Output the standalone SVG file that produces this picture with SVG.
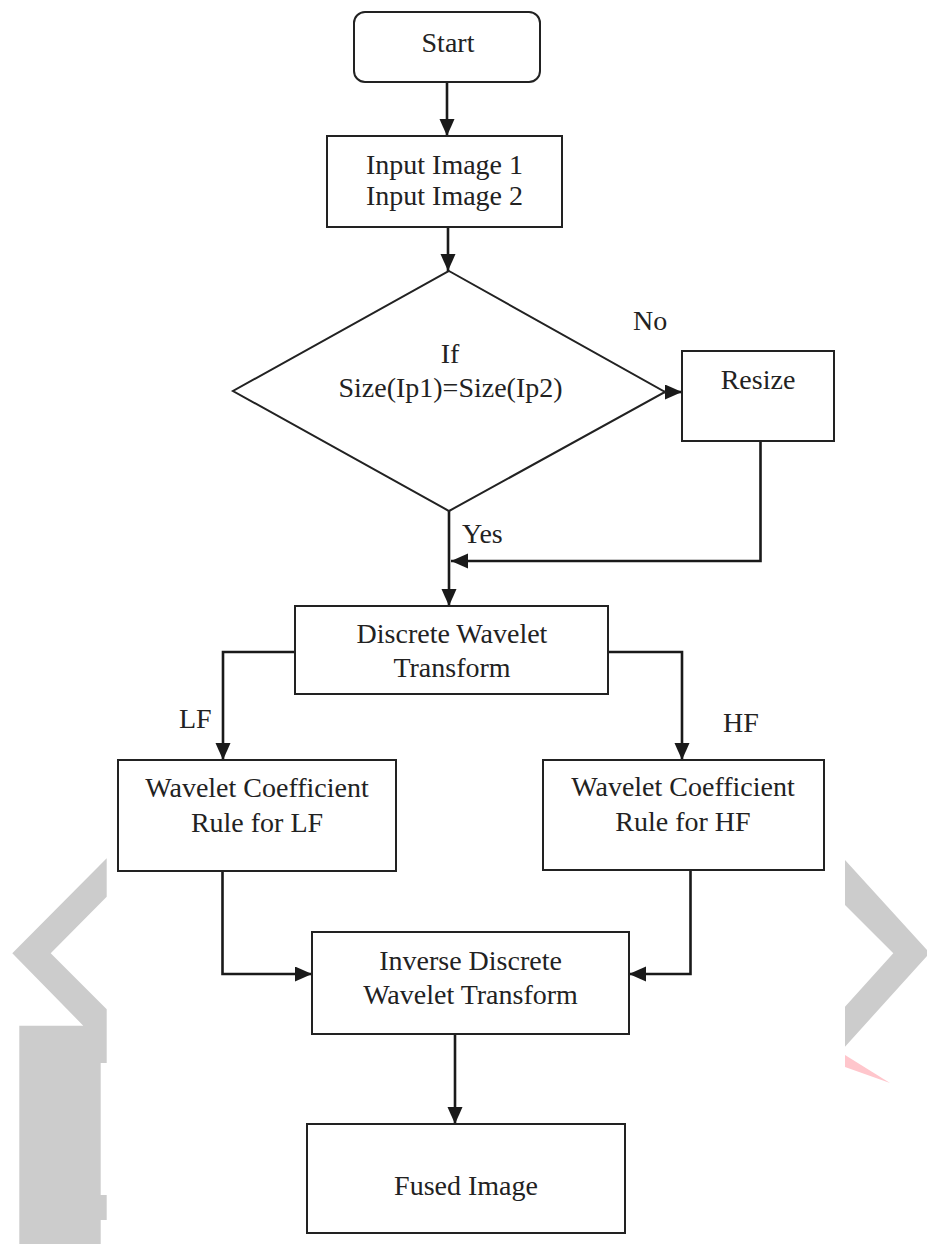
<svg xmlns="http://www.w3.org/2000/svg" width="927" height="1244" viewBox="0 0 927 1244">
  <defs>
    <style>
      .box { fill: #ffffff; stroke: #222; stroke-width: 2; }
      .conn { fill: none; stroke: #1a1a1a; stroke-width: 2.6; }
      .t { font-family: "Liberation Serif", "Times New Roman", serif; font-size: 28px; fill: #222; text-anchor: middle; }
      .lbl { font-family: "Liberation Serif", "Times New Roman", serif; font-size: 28px; fill: #222; }
      .wm { fill: #cccccc; }
    </style>
    <marker id="arr" markerUnits="userSpaceOnUse" markerWidth="18" markerHeight="16" refX="17" refY="7.5" orient="auto">
      <path d="M0,0 L17,7.5 L0,15 Z" fill="#1a1a1a"/>
    </marker>
  </defs>
  <rect width="927" height="1244" fill="#ffffff"/>

  <g id="watermark">
    <polygon class="wm" points="12.3,953.3 106.7,858.3 106.7,896.7 50.7,953.3 106.7,1009.3 106.7,1063 100.7,1063 100.7,1195 106.7,1195 106.7,1220 100.7,1220 100.7,1244 19.3,1244 19.3,1025.7 83.3,1025.7"/>
    <polygon class="wm" points="845,860 927,950 927,956 845,1046.7 845,1006.7 893.3,953.3 845,905"/>
    <polygon fill="#ffc6cc" points="845,1055 890,1083 845,1067"/>
  </g>

  <g id="connectors">
    <path class="conn" d="M447,82 L447,136" marker-end="url(#arr)"/>
    <path class="conn" d="M448,227 L448,271" marker-end="url(#arr)"/>
    <path class="conn" d="M664,392 L682,392" marker-end="url(#arr)"/>
    <path class="conn" d="M449,511 L449,606" marker-end="url(#arr)"/>
    <path class="conn" d="M760.5,441 L760.5,561 L451,561" marker-end="url(#arr)"/>
    <path class="conn" d="M295,652 L223,652 L223,760" marker-end="url(#arr)"/>
    <path class="conn" d="M608,652 L682,652 L682,760" marker-end="url(#arr)"/>
    <path class="conn" d="M222.5,871 L222.5,974 L312,974" marker-end="url(#arr)"/>
    <path class="conn" d="M690.5,870 L690.5,974 L629,974" marker-end="url(#arr)"/>
    <path class="conn" d="M455,1034 L455,1124" marker-end="url(#arr)"/>
    <text class="lbl" x="633" y="330">No</text>
    <text class="lbl" x="462" y="543">Yes</text>
    <text class="lbl" x="179" y="728">LF</text>
    <text class="lbl" x="723" y="732">HF</text>
  </g>

  <g id="start">
    <rect class="box" x="354" y="12" width="186" height="70" rx="11"/>
    <text class="t" x="448" y="52">Start</text>
  </g>

  <g id="input">
    <rect class="box" x="327" y="136" width="235" height="91"/>
    <text class="t" x="444.5" y="174">Input Image 1</text>
    <text class="t" x="444.5" y="205">Input Image 2</text>
  </g>

  <g id="decision">
    <polygon class="box" points="449,271 665,392 449,511 233,391"/>
    <text class="t" x="450" y="363">If</text>
    <text class="t" x="450.5" y="397">Size(Ip1)=Size(Ip2)</text>
  </g>

  <g id="resize">
    <rect class="box" x="682" y="351" width="152" height="90"/>
    <text class="t" x="758" y="389">Resize</text>
  </g>

  <g id="dwt">
    <rect class="box" x="295" y="606" width="313" height="88"/>
    <text class="t" x="452" y="643">Discrete Wavelet</text>
    <text class="t" x="452" y="677">Transform</text>
  </g>

  <g id="lf-rule">
    <rect class="box" x="118" y="760" width="278" height="111"/>
    <text class="t" x="257" y="797">Wavelet Coefficient</text>
    <text class="t" x="257" y="832">Rule for LF</text>
  </g>

  <g id="hf-rule">
    <rect class="box" x="543" y="760" width="281" height="110"/>
    <text class="t" x="683" y="796">Wavelet Coefficient</text>
    <text class="t" x="683" y="831">Rule for HF</text>
  </g>

  <g id="idwt">
    <rect class="box" x="312" y="932" width="317" height="102"/>
    <text class="t" x="470.5" y="970">Inverse Discrete</text>
    <text class="t" x="470.5" y="1004">Wavelet Transform</text>
  </g>

  <g id="fused">
    <rect class="box" x="307" y="1124" width="318" height="109"/>
    <text class="t" x="466" y="1195">Fused Image</text>
  </g>
</svg>
